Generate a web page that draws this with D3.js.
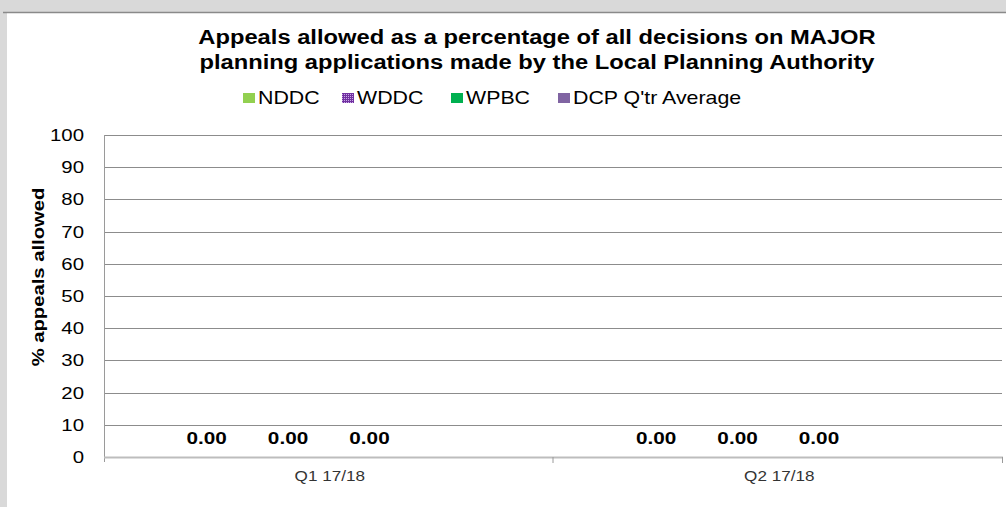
<!DOCTYPE html>
<html>
<head>
    <style>
        body { margin: 0; background: #d9d9d9; }
        svg { display: block; font-family: "Liberation Sans", Arial, sans-serif; }
        .title { font-weight: bold; font-size: 19.5px; fill: #000; text-anchor: middle; }
        .legend text { font-size: 17.5px; fill: #000; }
        .tick-lab { font-size: 17px; fill: #000; text-anchor: end; }
        .xlab { font-size: 14.5px; fill: #333; text-anchor: middle; }
        .val { font-size: 17px; font-weight: bold; text-anchor: middle; fill: #000; }
    </style>
    <script src="https://d3js.org/d3.v7.min.js"></script>
</head>
<body>
    <script>
        var categories = ["Q1 17/18", "Q2 17/18"];
        var seriesNames = ["NDDC", "WDDC", "WPBC", "DCP Q'tr Average"];
        var nddc = [0, 0];
        var wddc = [0, 0];
        var wpbc = [0, 0];
        var dcpAvg = [null, null];
        var yTicks = [0, 10, 20, 30, 40, 50, 60, 70, 80, 90, 100];
        var colors = ["#92d050", "#7030a0", "#00b050", "#8064a2"];

        var width = 1006, height = 507;
        var sx = 1.2; // the source glyphs look stretched horizontally
        var svg = d3.select("body").append("svg").attr("width", width).attr("height", height);

        // text placed at x,y and stretched along its baseline
        function stext(parent, x, y, cls, txt, k) {
            return parent.append("text").attr("class", cls)
                .attr("transform", "translate(" + x + "," + y + ") scale(" + (k || sx) + ",1)")
                .text(txt);
        }

        var defs = svg.append("defs");
        var pat = defs.append("pattern").attr("id", "dots")
            .attr("width", 2).attr("height", 2).attr("patternUnits", "userSpaceOnUse");
        pat.append("rect").attr("width", 2).attr("height", 2).attr("fill", "#7030a0");
        pat.append("rect").attr("width", 1).attr("height", 1).attr("fill", "#c9a8e6");

        // panel
        svg.append("rect").attr("x", 7).attr("y", 12).attr("width", width - 7).attr("height", height - 12)
           .attr("fill", "#fff");
        svg.append("line").attr("x1", 3).attr("x2", width).attr("y1", 12.5).attr("y2", 12.5)
           .attr("stroke", "#8a8a8a").attr("stroke-width", 1.5);

        stext(svg, 537, 44, "title", "Appeals allowed as a percentage of all decisions on MAJOR", 1.217);
        stext(svg, 537, 69, "title", "planning applications made by the Local Planning Authority", 1.217);

        // legend
        var legendX = [243, 342, 451, 558];
        var lg = svg.append("g").attr("class", "legend");
        seriesNames.forEach(function(n, i) {
            lg.append("rect").attr("x", legendX[i]).attr("y", 93).attr("width", 12).attr("height", 10)
              .attr("fill", i === 1 ? "url(#dots)" : colors[i]);
            stext(lg, legendX[i] + 15, 104, "", n, 1.22);
        });

        var plotL = 104, plotR = 1003, plotT = 135, plotB = 457;
        var y = d3.scaleLinear().domain([0, 100]).range([plotB, plotT]);
        var x0 = d3.scaleBand().domain(categories).range([plotL, plotR]).paddingInner(0.275).paddingOuter(0.1375);
        var x1 = d3.scaleBand().domain(seriesNames).range([0, x0.bandwidth()]);

        // gridlines
        svg.append("g").selectAll("line").data(yTicks.filter(function(t) { return t > 0; }))
           .enter().append("line")
           .attr("x1", plotL).attr("x2", plotR - 1)
           .attr("y1", function(d) { return Math.round(y(d)) + 0.5; })
           .attr("y2", function(d) { return Math.round(y(d)) + 0.5; })
           .attr("stroke", "#8c8c8c").attr("stroke-width", 1);

        // y tick labels
        var yg = svg.append("g");
        yTicks.forEach(function(t) {
            stext(yg, 84, y(t) + 6, "tick-lab", t);
        });
        svg.append("line").attr("x1", plotL + 0.5).attr("x2", plotL + 0.5).attr("y1", plotT).attr("y2", plotB + 5)
           .attr("stroke", "#9a9a9a");

        // x baseline and category ticks
        svg.append("line").attr("x1", plotL).attr("x2", plotR).attr("y1", plotB + 0.5).attr("y2", plotB + 0.5)
           .attr("stroke", "#bdbdbd").attr("stroke-width", 2);
        var sep = [plotL + x0.step(), plotR];
        svg.append("g").selectAll("line").data(sep).enter().append("line")
           .attr("x1", function(d) { return d - 0.5; }).attr("x2", function(d) { return d - 0.5; })
           .attr("y1", plotB).attr("y2", plotB + 6).attr("stroke", "#9a9a9a");

        var xg = svg.append("g");
        categories.forEach(function(c) {
            stext(xg, x0(c) + x0.bandwidth() / 2 + 1, 481, "xlab", c, 1.18);
        });

        var series = [nddc, wddc, wpbc, dcpAvg];
        categories.forEach(function(c, ci) {
            var g = svg.append("g").attr("transform", "translate(" + x0(c) + ",0)");
            series.forEach(function(vals, si) {
                var v = vals[ci];
                if (v === null) return;
                g.append("rect").attr("x", x1(seriesNames[si])).attr("width", x1.bandwidth())
                 .attr("y", y(v)).attr("height", plotB - y(v))
                 .attr("fill", si === 1 ? "url(#dots)" : colors[si]);
                stext(g, x1(seriesNames[si]) + x1.bandwidth() / 2, y(v) - 13, "val", v.toFixed(2), 1.22);
            });
        });

        svg.append("text")
           .attr("transform", "translate(44,277) rotate(-90) scale(1.19,1)")
           .attr("text-anchor", "middle").attr("font-weight", "bold").attr("font-size", "17px")
           .text("% appeals allowed");
    </script>
</body>
</html>
